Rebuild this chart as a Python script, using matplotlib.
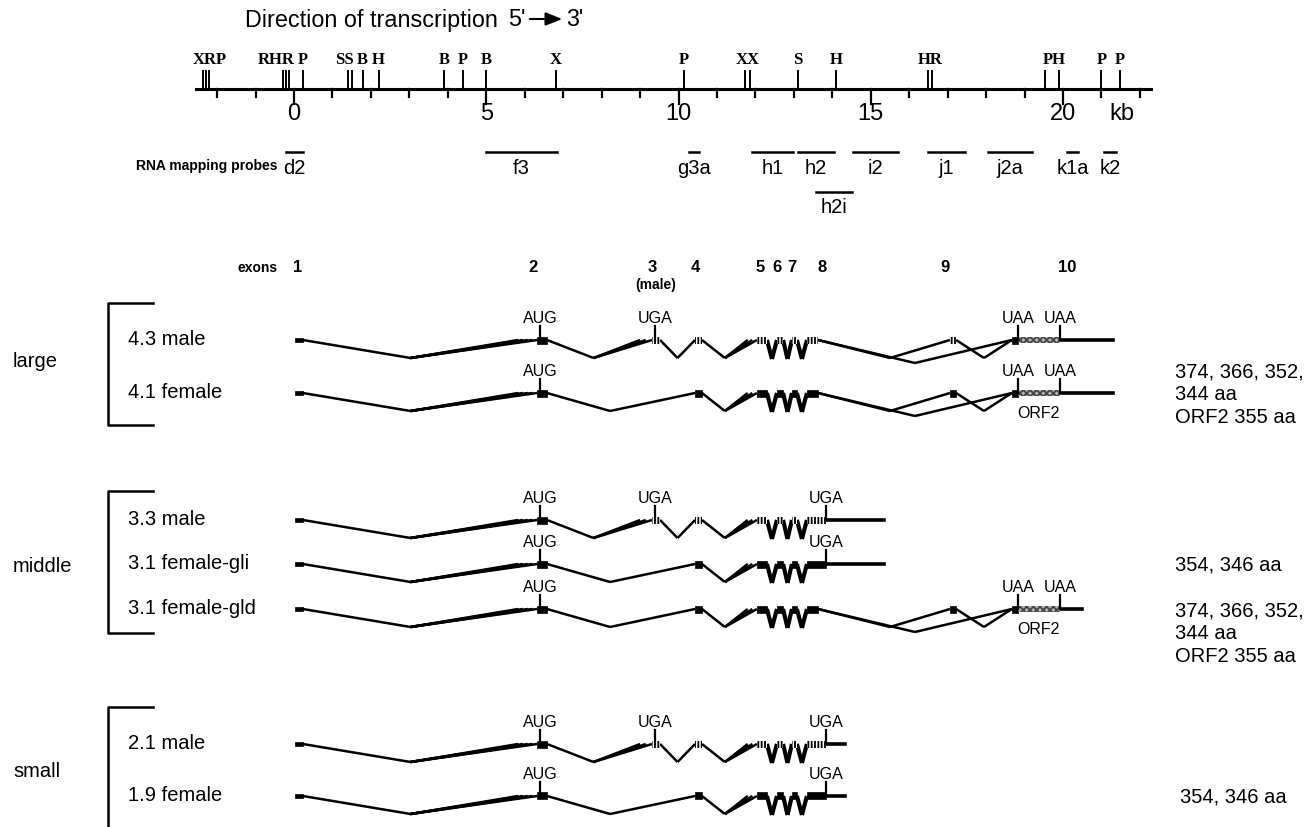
import matplotlib
matplotlib.use('Agg')
import matplotlib.pyplot as plt
from matplotlib.patches import Rectangle

plt.rcParams['font.family'] = ['Liberation Sans', 'DejaVu Sans']
plt.rcParams['hatch.linewidth'] = 1.3

# карта рестрикции (kb)
map_start, map_end = -2.55, 22.3
tick_kb = list(range(-2, 23))
major_kb = [0, 5, 10, 15, 20]
site_kb = [-2.37, -2.29, -2.2, -0.29, -0.21, -0.12, 0.24, 1.41, 1.5, 1.79, 2.22,
           3.9, 4.4, 4.99, 6.81, 10.14, 11.72, 11.86, 13.1, 14.1, 16.49, 16.6,
           19.53, 19.89, 21.0, 21.47]
site_text = ['XRP', 'RHR', 'P', 'SS', 'B', 'H', 'B', 'P', 'B', 'X', 'P', 'XX',
             'S', 'H', 'HR', 'PH', 'P', 'P']
site_text_kb = [-2.19, -0.47, 0.23, 1.3, 1.77, 2.18, 3.9, 4.4, 5.0, 6.81, 10.14,
                11.79, 13.1, 14.1, 16.54, 19.77, 21.0, 21.47]

# зонды
probe_names = ['d2', 'f3', 'g3a', 'h1', 'h2', 'i2', 'j1', 'j2a', 'k1a', 'k2', 'h2i']
probe_start = [-0.21, 5.0, 10.27, 11.9, 13.1, 14.55, 16.5, 18.05, 20.1, 21.07, 13.58]
probe_end = [0.23, 6.84, 10.53, 12.98, 14.05, 15.7, 17.45, 19.2, 20.4, 21.38, 14.5]
probe_level = [0, 0, 0, 0, 0, 0, 0, 0, 0, 0, 1]

# экзоны (kb)
exon_start = [0.03, 6.32, 9.31, 10.43, 12.04, 12.56, 12.95, 13.34, 17.06, 18.67]
exon_end = [0.23, 6.58, 9.52, 10.61, 12.30, 12.72, 13.08, 13.63, 17.22, 18.83]
exon_fan = {2: [5.83, 5.95, 6.08, 6.2, 6.32], 3: [9.0, 9.15, 9.31], 5: [11.8, 11.92, 12.04]}
intron_valley = {(2, 4): 8.22, (8, 9): 15.5}
exon_label = ['1', '2', '3', '4', '5', '6', '7', '8', '9', '10']
exon_label_kb = [0.1, 6.22, 9.33, 10.43, 12.12, 12.56, 12.95, 13.73, 16.93, 20.1]

aug_kb = 6.4
uga3_kb = 9.39
uga8_kb = 13.84
uaa_kb = [18.83, 19.92]

# транскрипты
row_labels = ['4.3 male', '4.1 female', '3.3 male', '3.1 female-gli', '3.1 female-gld',
              '2.1 male', '1.9 female']
row_y = [341, 394, 521, 565, 610, 745, 797]
row_male = [True, False, True, False, False, True, False]
row_exons = [[1, 2, 3, 4, 5, 6, 7, 8, 9, 10], [1, 2, 4, 5, 6, 7, 8, 9, 10],
             [1, 2, 3, 4, 5, 6, 7, 8], [1, 2, 4, 5, 6, 7, 8],
             [1, 2, 4, 5, 6, 7, 8, 9, 10], [1, 2, 3, 4, 5, 6, 7, 8], [1, 2, 4, 5, 6, 7, 8]]
row_skip9 = [True, True, False, False, True, False, False]
row_end = [21.3, 21.3, 15.35, 15.35, 20.49, 14.33, 14.33]
row_orf2 = [False, True, False, False, True, False, False]

group_names = ['large', 'middle', 'small']
group_top = [304, 492, 708]
group_bottom = [426, 634, 835]
group_label_y = [362, 567, 772]

right_text = ['374, 366, 352,', '344 aa', 'ORF2 355 aa', '354, 346 aa',
              '374, 366, 352,', '344 aa', 'ORF2 355 aa', '354, 346 aa']
right_y = [372, 395, 418, 565, 611, 634, 657, 797]
right_x = [1175, 1175, 1175, 1175, 1175, 1175, 1175, 1180]

fig = plt.figure(figsize=(13.15, 8.28), dpi=100)
lay = fig.add_axes([0, 0, 1, 1])
lay.set_xlim(0, 1315)
lay.set_ylim(828, 0)
lay.axis('off')
ax = fig.add_axes([0, 0, 1, 1])
ax.set_xlim(-294 / 38.45, (1315 - 294) / 38.45)
ax.set_ylim(828, 0)
ax.axis('off')
ax.patch.set_alpha(0)

# заголовок
lay.text(245, 20, 'Direction of transcription', fontsize=16.8, va='center')
lay.text(517, 20, "5'", fontsize=16.8, va='center', ha='center')
lay.annotate('', xy=(565, 20), xytext=(527, 20),
             arrowprops=dict(arrowstyle='-|>,head_length=1.0,head_width=0.4', color='black', lw=1.5))
lay.text(575, 20, "3'", fontsize=16.8, va='center', ha='center')

# карта
line_y = 90
ax.plot([map_start, map_end], [line_y, line_y], color='black', lw=2.2)
for t in tick_kb:
    ax.plot([t, t], [line_y, line_y + (15 if t in major_kb else 8)], color='black', lw=1.6)
for t in major_kb:
    ax.text(t, 114, str(t), fontsize=17, ha='center', va='center')
ax.text(21.53, 114, 'kb', fontsize=17, ha='center', va='center')
for s in site_kb:
    ax.plot([s, s], [line_y, line_y - 18], color='black', lw=1.4)
for txt, x in zip(site_text, site_text_kb):
    ax.text(x, 60, txt, fontsize=12, ha='center', va='center', weight='bold',
            family='Liberation Serif')

# зонды
lay.text(278, 166, 'RNA mapping probes', fontsize=10, weight='bold', ha='right', va='center')
for name, a, b, lev in zip(probe_names, probe_start, probe_end, probe_level):
    yb = 153 + lev * 40
    ax.plot([a, b], [yb, yb], color='black', lw=1.8)
    ax.text((a + b) / 2, yb + 15, name, fontsize=14.5, ha='center', va='center')

# номера экзонов
lay.text(278, 268, 'exons', fontsize=10, weight='bold', ha='right', va='center')
for lab, x in zip(exon_label, exon_label_kb):
    ax.text(x, 268, lab, fontsize=12, weight='bold', ha='center', va='center')
ax.text(9.4, 285, '(male)', fontsize=10, weight='bold', ha='center', va='center')


def draw_block(x0, x1, y, male, h=7):
    if male:
        # мужские экзоны - штриховка
        ax.add_patch(Rectangle((x0, y - h / 2), x1 - x0, h, facecolor='white',
                               edgecolor='black', hatch='|||||', lw=0, zorder=3))
    else:
        ax.add_patch(Rectangle((x0, y - h / 2), x1 - x0, h, facecolor='black',
                               edgecolor='black', lw=0.5, zorder=3))


def draw_intron(e1, e2, y, depth, lw):
    xa = exon_end[e1 - 1]
    fan = exon_fan.get(e2, [exon_start[e2 - 1]])
    xv = intron_valley.get((e1, e2), (xa + min(fan)) / 2)
    ax.plot([xa, xv], [y, y + depth], color='black', lw=lw, solid_capstyle='butt')
    for xf in fan:
        ax.plot([xv, xf], [y + depth, y], color='black', lw=lw, solid_capstyle='butt')


def codon(x, y, text):
    ax.plot([x, x], [y, y - 14], color='black', lw=1.6, zorder=4)
    ax.text(x, y - 22, text, fontsize=11.5, ha='center', va='center')


for i, y in enumerate(row_y):
    male = row_male[i]
    ex = row_exons[i]
    # интроны
    for a, b in zip(ex[:-1], ex[1:]):
        lw = 3.0 if a in (5, 6, 7) else 1.8
        draw_intron(a, b, y, 19 if a in (5, 6, 7) else 18, lw)
    if row_skip9[i]:
        draw_intron(8, 10, y, 23, 1.8)
    # экзоны
    for e in ex:
        a, b = exon_start[e - 1], exon_end[e - 1]
        if e == 1:
            draw_block(a, b, y, False, h=4)
        elif e == 2 or e == 10:
            draw_block(a, b, y, False)
        elif e == 8 and 10 not in ex:
            draw_block(a, uga8_kb, y, male)
        else:
            draw_block(a, b, y, male)
    codon(aug_kb, y, 'AUG')
    if 3 in ex:
        codon(uga3_kb, y, 'UGA')
    if 10 in ex:
        ax.add_patch(Rectangle((uaa_kb[0], y - 3), uaa_kb[1] - uaa_kb[0], 6, facecolor='#b5b5b5',
                               edgecolor='#444444', hatch='xxxxx', lw=0, zorder=3))
        ax.plot([uaa_kb[1], row_end[i]], [y, y], color='black', lw=2.6)
        for u in uaa_kb:
            codon(u, y, 'UAA')
    else:
        ax.plot([uga8_kb, row_end[i]], [y, y], color='black', lw=2.6)
        codon(uga8_kb, y, 'UGA')
    if row_orf2[i]:
        ax.text(19.35, y + 20, 'ORF2', fontsize=11.5, ha='center', va='center')
    lay.text(128, y - 1, row_labels[i], fontsize=14.5, ha='left', va='center')

# скобки групп
for name, t, b, ly in zip(group_names, group_top, group_bottom, group_label_y):
    lay.plot([153, 108, 108, 153], [t, t, b, b], color='black', lw=1.8)
    lay.text(13, ly, name, fontsize=14.5, ha='left', va='center')

for txt, y, x in zip(right_text, right_y, right_x):
    lay.text(x, y, txt, fontsize=14.5, ha='left', va='center')

fig.savefig('out.png', dpi=100)
